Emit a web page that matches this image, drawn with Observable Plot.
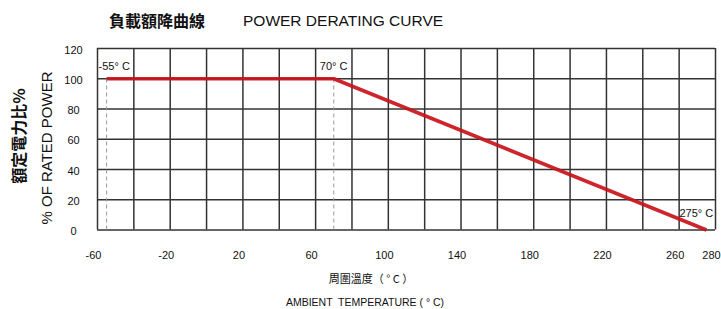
<!DOCTYPE html>
<html>
<head>
<meta charset="utf-8">
<script src="https://cdn.jsdelivr.net/npm/d3@7"></script>
<script src="https://cdn.jsdelivr.net/npm/@observablehq/plot@0.6"></script>
<style>
  body { margin: 0; background: #fff; }
  #wrap { position: relative; width: 721px; height: 309px; overflow: hidden; font-family: "Liberation Sans", Arial, sans-serif; color: #111; }
  .t { position: absolute; white-space: pre; line-height: 1; }
  .rot { transform-origin: center center; transform: translate(-50%, -50%) rotate(-90deg); }
</style>
</head>
<body>
<div id="wrap"></div>
<script>
// Data
const temps = [-55, 70, 275];
const power = [100, 100, 0];
const pointLabels = ["-55\u00B0 C", "70\u00B0 C", "275\u00B0 C"];
const dashedTemps = [-55, 70];
const xTickValues = [-60, -20, 20, 60, 100, 140, 180, 220, 260, 280];
const yTickValues = [0, 20, 40, 60, 80, 100, 120];
const xGridValues = [-60, -40, -20, 0, 20, 40, 60, 80, 100, 120, 140, 160, 180, 200, 220, 240, 260, 280];
const yGridValues = [0, 20, 40, 60, 80, 100, 120];
const titleZh = "負載額降曲線";
const titleEn = "POWER DERATING CURVE";
const yLabelZh = "額定電力比%";
const yLabelEn = "% OF RATED POWER";
const xLabelZh = "周圍溫度（ \u00B0 C ）";
const xLabelEn = "AMBIENT  TEMPERATURE ( \u00B0 C)";

const curve = temps.map((t, i) => ({t, p: power[i], label: pointLabels[i]}));

const gridColor = "#333";
const chart = Plot.plot({
  width: 721,
  height: 309,
  marginLeft: 97,
  marginRight: 6,
  marginTop: 48,
  marginBottom: 79.5,
  style: {fontFamily: "'Liberation Sans', Arial, sans-serif", fontSize: "11px", color: "#111", background: "#fff"},
  x: {domain: [-60, 280]},
  y: {domain: [0, 120]},
  marks: [
    Plot.ruleX(xGridValues, {stroke: gridColor, strokeWidth: 1.5}),
    Plot.ruleY(yGridValues, {stroke: gridColor, strokeWidth: 1.5}),
    Plot.ruleX(dashedTemps, {y1: 0, y2: 100, stroke: "#9a9a9a", strokeWidth: 1, strokeDasharray: "4,3"}),
    Plot.line(curve, {x: "t", y: "p", stroke: "#c8141a", strokeWidth: 3.6, strokeOpacity: 0.92, strokeLinecap: "butt"}),
    Plot.text(curve.slice(0, 1), {x: "t", y: "p", text: "label", textAnchor: "start", dx: -8, dy: -12, fontSize: 11, fill: "#111"}),
    Plot.text(curve.slice(1, 2), {x: "t", y: "p", text: "label", textAnchor: "start", dx: -14, dy: -12, fontSize: 11, fill: "#111"}),
    Plot.text(curve.slice(2, 3), {x: "t", y: "p", text: "label", textAnchor: "start", dx: -27, dy: -17, fontSize: 11, fill: "#111"}),
    Plot.axisX({ticks: xTickValues, tickSize: 0, tickPadding: 21, dx: -4, label: null, fontSize: 11, tickFormat: d => String(d)}),
    Plot.axisY({ticks: yTickValues, tickSize: 0, tickPadding: 24, textAnchor: "middle", dy: 1.5, label: null, fontSize: 11, tickFormat: d => String(d)})
  ]
});

const wrap = document.getElementById("wrap");
wrap.appendChild(chart);

function addText(text, css, cls) {
  const d = document.createElement("div");
  d.className = "t" + (cls ? " " + cls : "");
  d.textContent = text;
  Object.assign(d.style, css);
  wrap.appendChild(d);
  return d;
}
addText(titleZh, {left: "109px", top: "12px", fontSize: "16px", fontWeight: "bold", fontFamily: "'Noto Sans CJK TC', sans-serif", lineHeight: "16px"});
addText(titleEn, {left: "243px", top: "13px", fontSize: "15.5px", lineHeight: "16px"});
addText(yLabelZh, {left: "18px", top: "136px", fontSize: "16px", fontWeight: "bold", fontFamily: "'Noto Sans CJK TC', sans-serif", lineHeight: "16px"}, "rot");
addText(yLabelEn, {left: "46px", top: "148px", fontSize: "15px", lineHeight: "15px"}, "rot");
addText(xLabelZh, {left: "371px", top: "278px", fontSize: "11px", fontFamily: "'Noto Sans CJK TC', sans-serif", lineHeight: "12px", transform: "translate(-50%, -50%)"});
addText(xLabelEn, {left: "365px", top: "302px", fontSize: "10.5px", lineHeight: "11px", transform: "translate(-50%, -50%)"});
</script>
</body>
</html>
